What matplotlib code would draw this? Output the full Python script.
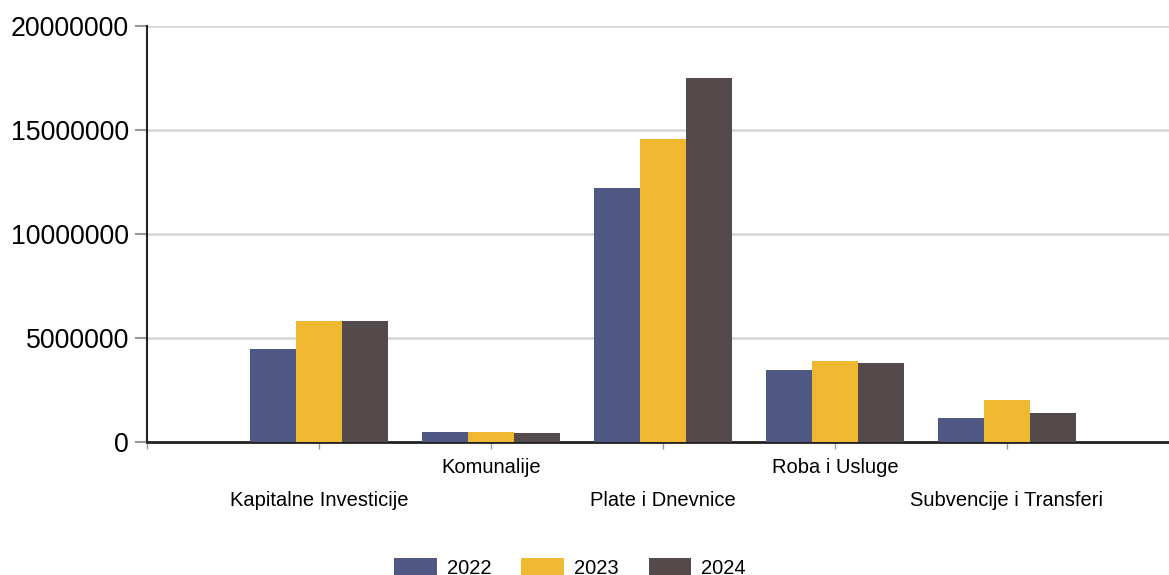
import numpy as np
import matplotlib.pyplot as plt

plt.rcParams['font.family'] = ['Liberation Sans', 'DejaVu Sans']

categories = ['Kapitalne Investicije', 'Komunalije', 'Plate i Dnevnice',
              'Roba i Usluge', 'Subvencije i Transferi']
years = ['2022', '2023', '2024']
v2022 = [4460000, 470000, 12210000, 3460000, 1140000]
v2023 = [5830000, 470000, 14570000, 3890000, 2000000]
v2024 = [5800000, 420000, 17500000, 3800000, 1380000]
colors = ['#4f5882', '#f0b830', '#544a4b']

fig = plt.figure(figsize=(11.69, 5.75), dpi=100)
ax = fig.add_axes([147/1169, 133/575, 1032/1169, 416/575])

x = np.arange(1, len(categories) + 1)
width = 0.8 / 3
for i, (vals, yr) in enumerate(zip([v2022, v2023, v2024], years)):
    ax.bar(x + (i - 1) * width, vals, width, color=colors[i], label=yr, zorder=3)

ax.set_xlim(0, 6)
ax.set_ylim(0, 20000000)
ax.set_yticks([0, 5000000, 10000000, 15000000, 20000000])
ax.set_yticklabels(['0', '5000000', '10000000', '15000000', '20000000'], fontsize=19.3)
ax.yaxis.grid(True, color='#d9d9d9', linewidth=2)
ax.set_axisbelow(True)
ax.tick_params(axis='y', length=9, width=1.5, color='#999999', pad=4)

ax.set_xticks(np.arange(0, 6))
ax.set_xticklabels([''] + categories, fontsize=14.5)
ax.tick_params(axis='x', length=5, width=1, color='#999999')
for i, t in enumerate(ax.xaxis.get_major_ticks()):
    if i == 0:
        continue
    t.set_pad(30.5 if i % 2 == 1 else 6.5)

for s in ['top', 'right']:
    ax.spines[s].set_visible(False)
ax.spines['left'].set_linewidth(1.5)
ax.spines['bottom'].set_linewidth(2)
ax.spines['left'].set_color('#222222')
ax.spines['bottom'].set_color('#222222')

fig.legend(loc='center', bbox_to_anchor=(570/1169, 7/575), ncols=3, frameon=False,
           fontsize=14.5, handlelength=2.1, handleheight=1.0, columnspacing=1.5,
           handletextpad=0.5)

plt.savefig('out.png', dpi=100)
